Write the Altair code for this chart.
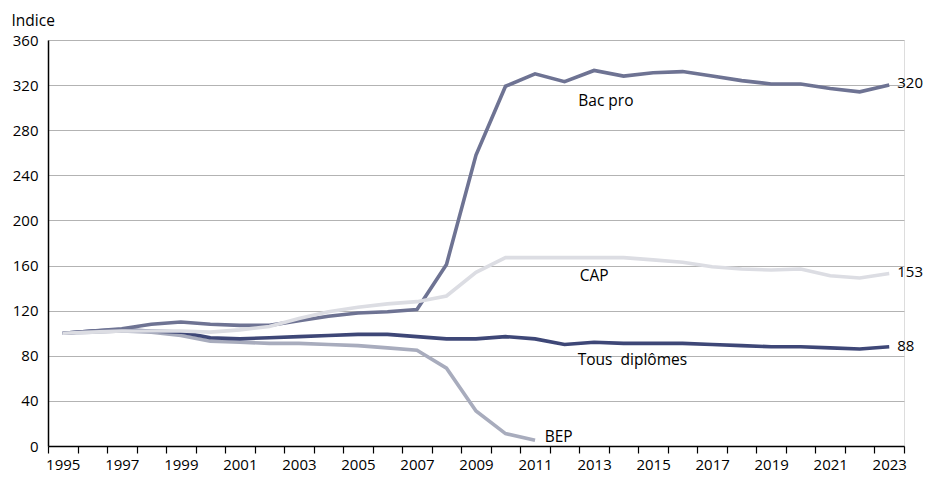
import altair as alt
import pandas as pd

years = list(range(1995, 2024))
bac_pro = [100, 102, 104, 108, 110, 108, 107, 107, 111, 115, 118, 119, 121, 161, 258,
           319, 330, 323, 333, 328, 331, 332, 328, 324, 321, 321, 317, 314, 320]
cap = [100, 101, 102, 102, 102, 101, 103, 106, 113, 119, 123, 126, 128, 133, 154,
       167, 167, 167, 167, 167, 165, 163, 159, 157, 156, 157, 151, 149, 153]
tous = [100, 102, 103, 102, 101, 96, 95, 96, 97, 98, 99, 99, 97, 95, 95,
        97, 95, 90, 92, 91, 91, 91, 90, 89, 88, 88, 87, 86, 88]
bep_years = list(range(1995, 2012))
bep = [100, 101, 102, 101, 98, 93, 92, 91, 91, 90, 89, 87, 85, 69, 31, 11, 5]

series_names = ["BEP", "Tous diplômes", "Bac pro", "CAP"]
series_colors = ["#a8acbd", "#3e4777", "#6e7393", "#dcdde3"]

label_text = ["Bac pro", "CAP", "Tous\u00a0 diplômes", "BEP"]
label_x = [2013.4, 2013.0, 2014.3, 2011.8]
label_y = [306, 151, 76, 8]

end_text = ["320", "153", "88"]
end_x = [2023, 2023, 2023]
end_y = [322, 154, 89]

y_ticks = list(range(0, 361, 40))
x_bounds = [y - 0.5 for y in range(1995, 2025)]

FONT = "Open Sans"

rows = []
for s, vals, yrs in [("BEP", bep, bep_years), ("Tous diplômes", tous, years),
                     ("Bac pro", bac_pro, years), ("CAP", cap, years)]:
    for yr, v in zip(yrs, vals):
        rows.append({"serie": s, "x": yr, "y": v})
df = pd.DataFrame(rows)

x_scale = alt.Scale(domain=[1994.5, 2023.5], nice=False, zero=False)
y_scale = alt.Scale(domain=[0, 360], nice=False)

x_axis = alt.Axis(
    values=x_bounds,
    labelExpr="((datum.value + 0.5) % 2 == 1) ? toString(datum.value + 0.5) : ''",
    labelOffset=14.76, labelFlush=False, labelOverlap=False, labelAngle=0,
    grid=False, tickSize=7, tickColor="black", tickWidth=1.2,
    domainColor="black", domainWidth=1.5, labelPadding=4,
    labelFontSize=15, labelColor="black", labelFont=FONT, title=None, zindex=1)

y_axis = alt.Axis(
    values=y_ticks, grid=True, gridColor="#b3b3b3", gridWidth=1, ticks=False,
    domainColor="black", domainWidth=1.5, labelPadding=10,
    labelFontSize=15, labelColor="black", labelFont=FONT,
    title="Indice", titleAngle=0, titleAlign="left", titleBaseline="middle",
    titleX=-37, titleY=-20, titleFontWeight="normal", titleFontSize=15.5,
    titleFont=FONT, titleColor="black")

X = alt.X("x:Q", scale=x_scale, axis=x_axis)
Y = alt.Y("y:Q", scale=y_scale, axis=y_axis)

layers = []
for name, col in zip(series_names, series_colors):
    layers.append(
        alt.Chart(df[df.serie == name]).mark_line(color=col, strokeWidth=3.6)
        .encode(x=X, y=Y)
    )

lab_df = pd.DataFrame({"t": label_text, "x": label_x, "y": label_y})
labels = alt.Chart(lab_df).mark_text(
    font=FONT, fontSize=15.5, color="black", align="center", baseline="middle"
).encode(x=X, y=Y, text="t:N")

end_df = pd.DataFrame({"t": end_text, "x": end_x, "y": end_y})
end_labels = alt.Chart(end_df).mark_text(
    font=FONT, fontSize=15, color="black", align="left", baseline="middle", dx=8
).encode(x=X, y=Y, text="t:N")

chart = alt.layer(*layers, labels, end_labels).properties(
    width=856, height=406,
    autosize=alt.AutoSizeParams(type="none"),
    padding={"left": 40, "top": 32, "right": 20, "bottom": 28},
).configure_view(stroke="transparent").configure(background="white")

chart.save("out.html", embed_options={"renderer": "svg", "actions": False})
